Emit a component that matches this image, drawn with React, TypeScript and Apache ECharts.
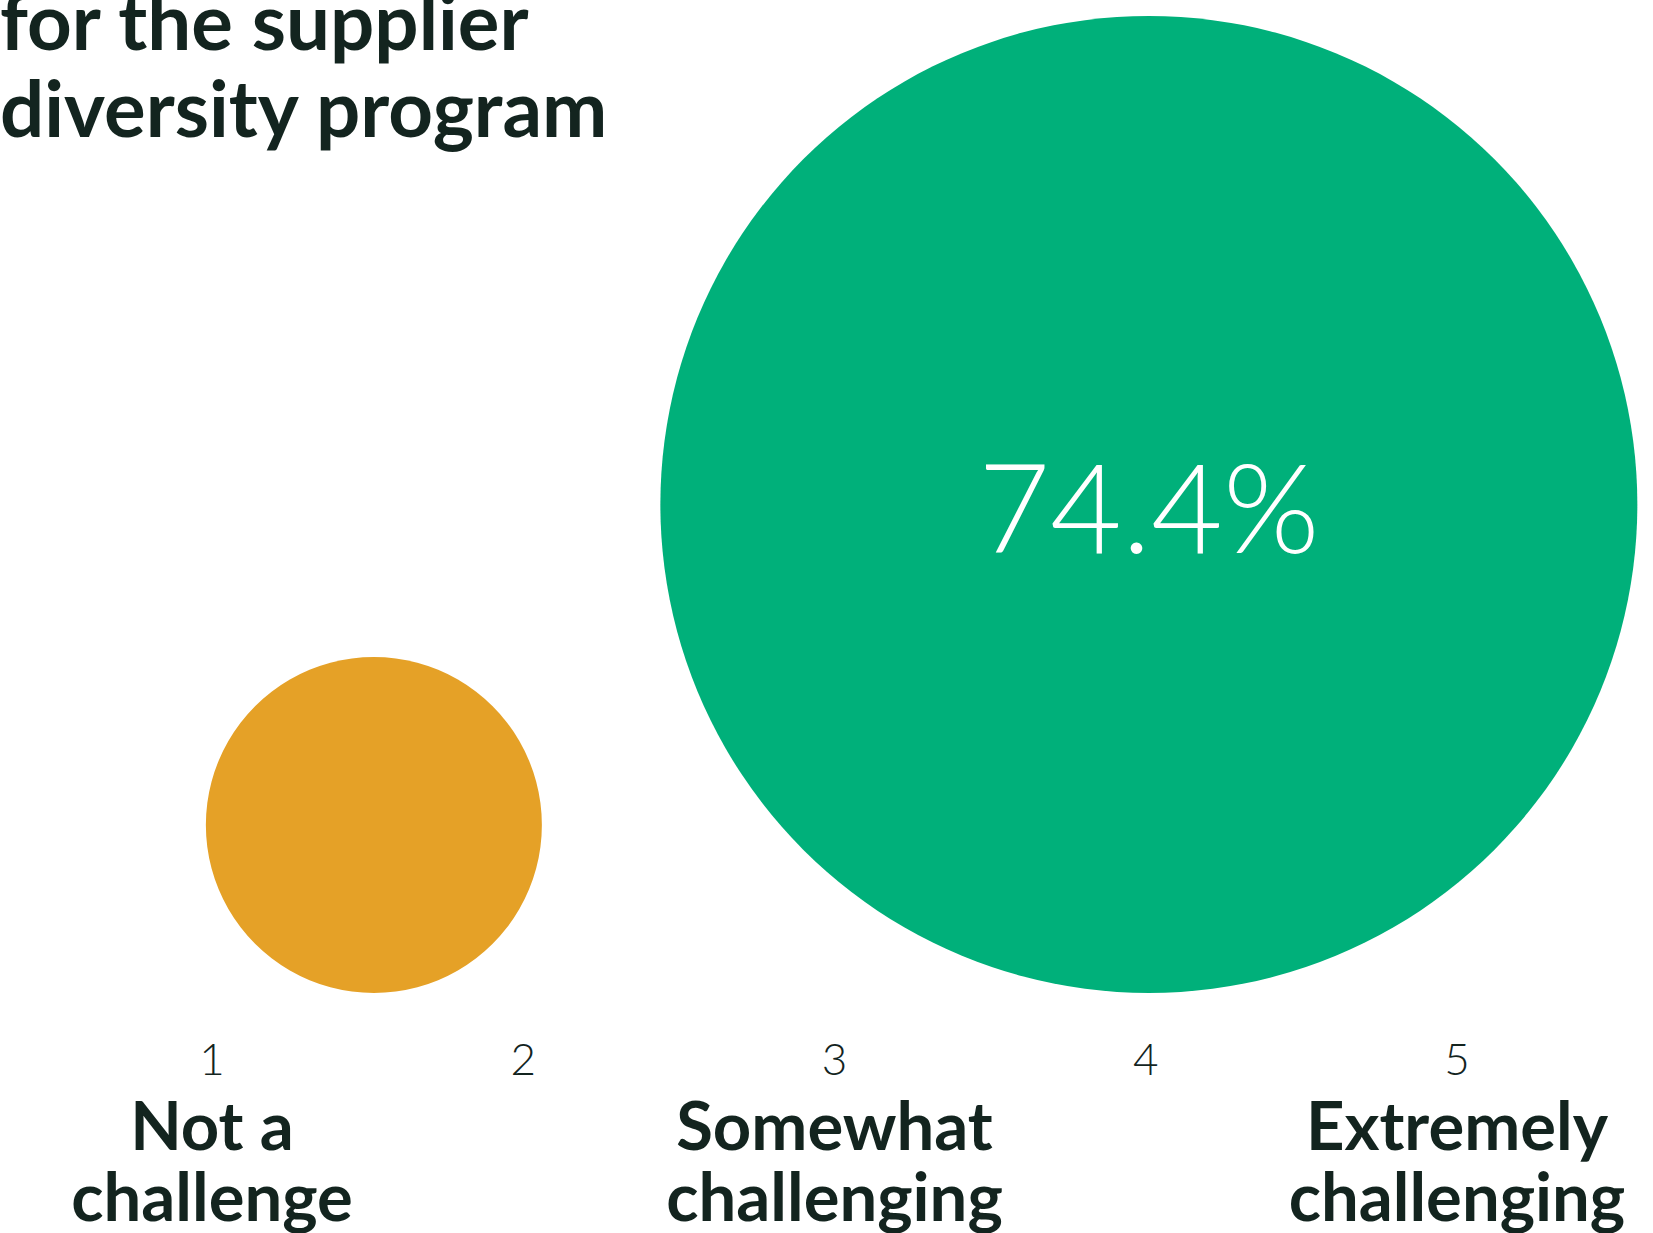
import React, { useEffect, useRef } from "react";
import * as echarts from "echarts";

// ---- data ----
const titleLines = ["for the supplier", "diversity program"];
const tickValues = [1, 2, 3, 4, 5];
const tickLabels = ["1", "2", "3", "4", "5"];
const scaleNames = ["Not a\nchallenge", "", "Somewhat\nchallenging", "", "Extremely\nchallenging"];
const bubbleX = [1.52, 4.01];
const bubbleShare = [8.8, 74.4];
const bubbleShowLabel = [false, true];
const bubbleColors = ["#E5A127", "#00B07A"];

const INK = "#13241F";
const FONT = "Lato, 'Open Sans', sans-serif";
const MAX_DIAMETER = 977;

export default function App() {
  const ref = useRef<HTMLDivElement>(null);
  useEffect(() => {
    if (!ref.current) return;
    const chart = echarts.init(ref.current, undefined, { renderer: "svg" });
    const maxShare = Math.max(...bubbleShare);
    chart.setOption({
      animation: false,
      backgroundColor: "#ffffff",
      grid: { left: 56.4, right: 40.4, top: 0, bottom: 240, containLabel: false },
      xAxis: {
        type: "value",
        min: 0.5,
        max: 5.5,
        axisLine: { show: false },
        axisTick: { show: false },
        splitLine: { show: false },
        axisLabel: {
          customValues: tickValues,
          margin: 34,
          formatter: (v: number) => {
            const i = tickValues.indexOf(v);
            const name = scaleNames[i];
            let s = `{n|${tickLabels[i]}}`;
            if (name) s += "\n" + name.split("\n").map((t) => `{c|${t}}`).join("\n");
            return s;
          },
          rich: {
            n: { fontSize: 44, fontWeight: 300, lineHeight: 61, fontFamily: FONT, color: INK },
            c: { fontSize: 67, fontWeight: "bold", lineHeight: 71, fontFamily: FONT, color: INK },
          },
        },
      },
      yAxis: { type: "value", min: 0, max: 1, show: false },
      graphic: [
        {
          type: "text",
          x: 0,
          y: -24,
          style: {
            text: titleLines.join("\n"),
            fontSize: 78,
            fontWeight: "bold",
            fontFamily: FONT,
            lineHeight: 87,
            fill: INK,
            verticalAlign: "top",
          },
        },
      ],
      series: [
        {
          type: "scatter",
          clip: false,
          symbolOffset: [0, "-50%"],
          emphasis: { disabled: true },
          data: bubbleX.map((x, i) => ({
            value: [x, 0, bubbleShare[i]],
            symbolSize: MAX_DIAMETER * Math.sqrt(bubbleShare[i] / maxShare),
            itemStyle: { color: bubbleColors[i], opacity: 1 },
            label: {
              show: bubbleShowLabel[i],
              position: "inside",
              formatter: (p: any) => `${p.value[2].toFixed(1)}%`,
              color: "#ffffff",
              fontSize: 124,
              fontWeight: 300,
              fontFamily: FONT,
            },
          })),
        },
      ],
    });
    return () => chart.dispose();
  }, []);
  return (
    <div
      ref={ref}
      style={{ position: "fixed", left: 0, top: 0, width: 1653, height: 1233 }}
    />
  );
}
